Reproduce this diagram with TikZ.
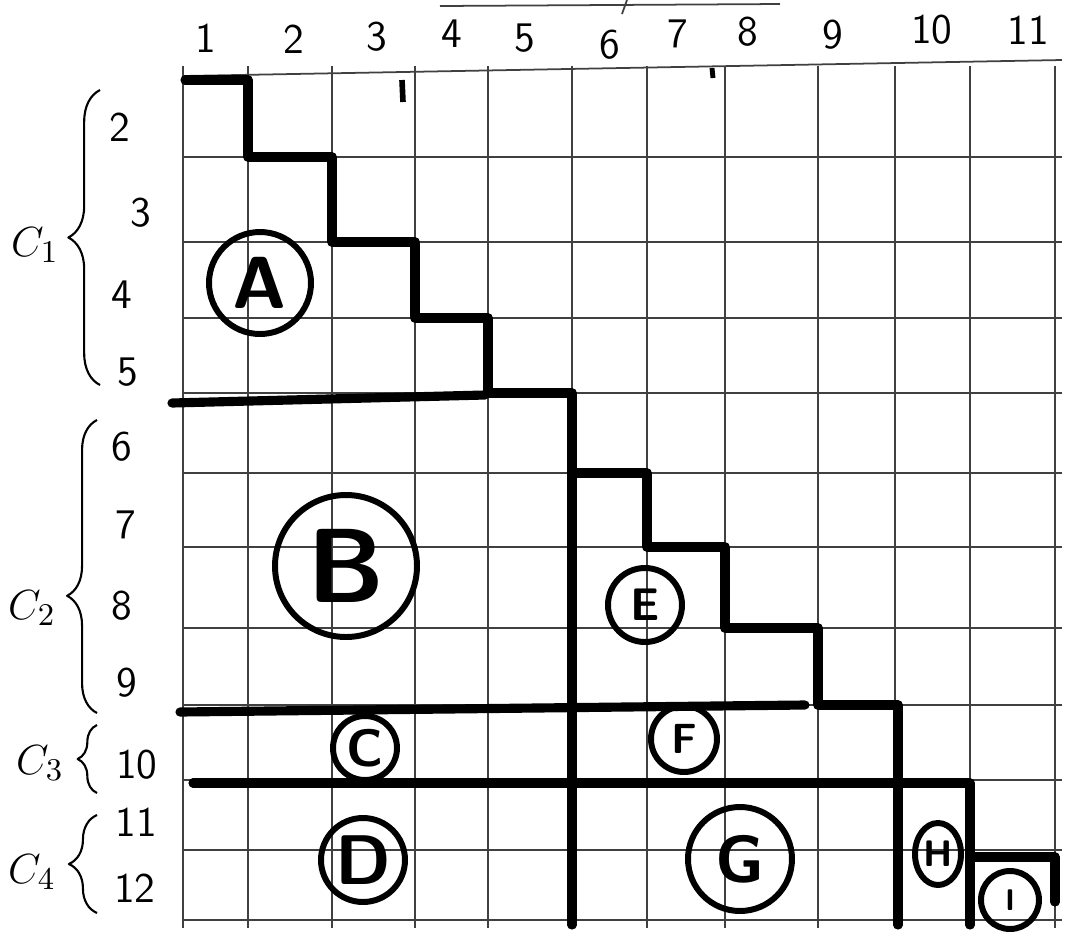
\documentclass[tikz,border=0pt]{standalone}
\usepackage{amsmath}
\usepackage{tikz}
\usetikzlibrary{decorations.pathreplacing,shapes.geometric}

\begin{document}
\begin{tikzpicture}[x=1cm,y=-1cm,line join=round,
    gridline/.style={black!75,line width=0.5pt},
    cut/.style={line width=2.6pt,line cap=round},
    ring/.style={circle,draw,line width=1.7pt,inner sep=0pt,font=\sffamily\bfseries},
    numlab/.style={font=\sffamily\fontsize{12}{14}\selectfont},
    grp/.style={decorate,line width=0.6pt}]
  \useasboundingbox (0,0) rectangle (10.9,9.43);
  % grid
  \foreach \x in {1.83,2.48,3.32,4.15,4.88,5.72,6.47,7.25,8.18,8.95,9.70,10.55}
    \draw[gridline] (\x,0.66) -- (\x,9.28);
  \foreach \y in {1.57,2.42,3.18,3.93,4.73,5.47,6.28,7.05,7.80,8.50,9.20}
    \draw[gridline] (1.83,\y) -- (10.62,\y);
  \draw[gridline] (1.83,0.76) -- (10.62,0.60);
  \draw[gridline] (4.40,0.06) -- (7.80,0.04);
  \draw[gridline] (6.27,0.0) -- (6.22,0.14);
  \draw[line width=1.6pt] (4.02,0.80) -- (4.03,1.02);
  \draw[line width=1.4pt] (7.12,0.68) -- (7.13,0.78);
  % column and row numbers
  \foreach \n/\x/\y in {1/2.06/0.38,2/2.94/0.39,3/3.77/0.37,4/4.52/0.34,5/5.25/0.38,
      6/6.10/0.45,7/6.78/0.34,8/7.48/0.32,9/8.33/0.35,10/9.32/0.30,11/10.28/0.30}
    \node[numlab] (col\n) at (\x,\y) {\n};
  \foreach \n/\x/\y in {2/1.20/1.27,3/1.41/2.13,4/1.22/2.95,5/1.28/3.72,6/1.22/4.47,
      7/1.26/5.25,8/1.22/6.06,9/1.27/6.83,10/1.37/7.65,11/1.36/8.22,12/1.35/8.88}
    \node[numlab] (row\n) at (\x,\y) {\n};
  % groups of rows
  \draw[grp,decoration={brace,amplitude=9pt}] (1.00,3.85) -- (1.00,0.90);
  \draw[grp,decoration={brace,amplitude=8.5pt,aspect=0.4}] (0.97,7.13) -- (0.97,4.20);
  \draw[grp,decoration={brace,amplitude=5.5pt}] (0.97,7.93) -- (0.97,7.25);
  \draw[grp,decoration={brace,amplitude=8pt}] (0.97,9.13) -- (0.97,8.15);
  \node[font=\fontsize{13}{15}\selectfont] (cone) at (0.35,2.45) {$C_1$};
  \node[font=\fontsize{13}{15}\selectfont] (ctwo) at (0.32,6.08) {$C_2$};
  \node[font=\fontsize{13}{15}\selectfont] (cthree) at (0.40,7.63) {$C_3$};
  \node[font=\fontsize{13}{15}\selectfont] (cfour) at (0.32,8.72) {$C_4$};
  % block borders
  \draw[cut] (1.85,0.80) -| (2.48,1.57) -| (3.32,2.42) -| (4.15,3.18)
    -| (4.88,3.93) -| (5.72,9.25);
  \draw[cut] (1.72,4.03) -- (4.85,3.95);
  \draw[cut] (5.72,4.73) -| (6.47,5.47) -| (7.25,6.28) -| (8.18,7.05)
    -| (8.98,9.25);
  \draw[cut] (1.80,7.12) -- (8.05,7.05);
  \draw[cut] (1.93,7.83) -| (9.70,9.25);
  \draw[cut] (9.70,8.57) -| (10.55,9.02);
  % blocks
  \node[ring,minimum size=1.02cm,font=\sffamily\bfseries\fontsize{21}{21}\selectfont]
    (blkA) at (2.60,2.83) {A};
  \node[ring,minimum size=1.42cm,font=\sffamily\bfseries\fontsize{30}{30}\selectfont]
    (blkB) at (3.46,5.66) {B};
  \node[ring,minimum size=0.64cm,font=\sffamily\bfseries\fontsize{15}{15}\selectfont]
    (blkC) at (3.65,7.48) {C};
  \node[ring,minimum size=0.84cm,font=\sffamily\bfseries\fontsize{20}{20}\selectfont]
    (blkD) at (3.63,8.60) {D};
  \node[ring,minimum size=0.74cm,font=\sffamily\bfseries\fontsize{13}{13}\selectfont]
    (blkE) at (6.45,6.05) {E};
  \node[ring,minimum size=0.66cm,font=\sffamily\bfseries\fontsize{12}{12}\selectfont]
    (blkF) at (6.84,7.39) {F};
  \node[ring,minimum size=1.04cm,font=\sffamily\bfseries\fontsize{19}{19}\selectfont]
    (blkG) at (7.40,8.59) {G};
  \node[ring,ellipse,minimum width=0.46cm,minimum height=0.62cm,
    font=\sffamily\bfseries\fontsize{10.5}{10.5}\selectfont] (blkH) at (9.38,8.54) {H};
  \node[ring,minimum size=0.58cm,font=\sffamily\bfseries\fontsize{8.5}{8.5}\selectfont]
    (blkI) at (10.10,9.00) {I};
\end{tikzpicture}
\end{document}
